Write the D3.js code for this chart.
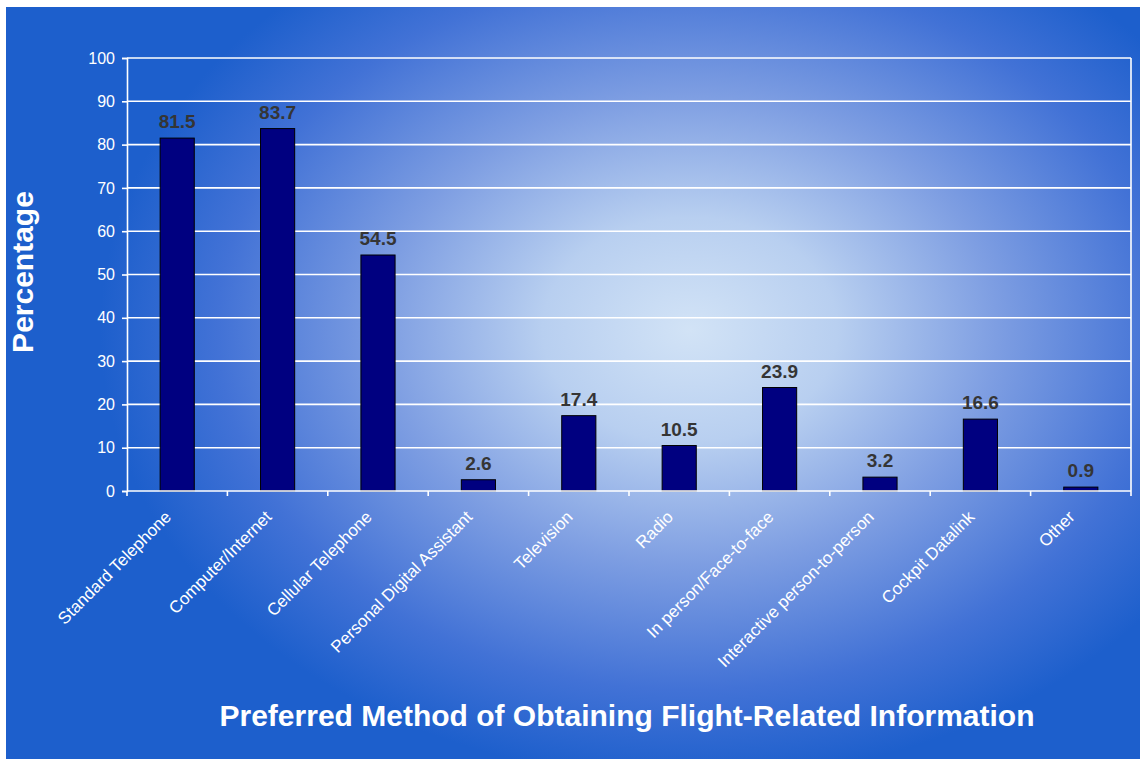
<!DOCTYPE html>
<html>
<head>
<meta charset="utf-8">
<script src="https://cdn.jsdelivr.net/npm/d3@7"></script>
<style>
  html, body { margin: 0; padding: 0; background: #ffffff; }
  svg { display: block; }
  text { font-family: "Liberation Sans", Arial, sans-serif; }
</style>
</head>
<body>
<svg id="chart" width="1140" height="759"></svg>
<script>
// Survey results: preferred method of obtaining flight-related information
const categories = [
  "Standard Telephone",
  "Computer/Internet",
  "Cellular Telephone",
  "Personal Digital Assistant",
  "Television",
  "Radio",
  "In person/Face-to-face",
  "Interactive person-to-person",
  "Cockpit Datalink",
  "Other"
];
const percentages = [81.5, 83.7, 54.5, 2.6, 17.4, 10.5, 23.9, 3.2, 16.6, 0.9];
const yTicks = [0, 10, 20, 30, 40, 50, 60, 70, 80, 90, 100];
const xTitle = "Preferred Method of Obtaining Flight-Related Information";
const yTitle = "Percentage";

const W = 1140, H = 759;
const plot = { left: 127, right: 1131, top: 58, bottom: 491 };

const svg = d3.select("#chart");

// Background: blue field brightening toward the middle
const defs = svg.append("defs");
const grad = defs.append("radialGradient")
  .attr("id", "bg")
  .attr("gradientUnits", "userSpaceOnUse")
  .attr("cx", 0).attr("cy", 0).attr("r", 1)
  .attr("gradientTransform", "translate(690,330) scale(590,450)");
[
  [0.00, "#d2e3f6"],
  [0.25, "#b8cff0"],
  [0.52, "#7e9ee2"],
  [0.80, "#4272d6"],
  [1.00, "#1d5fcc"]
].forEach(([o, c]) => grad.append("stop").attr("offset", o).attr("stop-color", c));

svg.append("rect")
  .attr("x", 6).attr("y", 7)
  .attr("width", W - 6).attr("height", H - 7)
  .attr("fill", "url(#bg)");

// Scales
const x = d3.scaleBand()
  .domain(categories)
  .range([plot.left, plot.right])
  .paddingInner(0.66)
  .paddingOuter(0.33);

const y = d3.scaleLinear()
  .domain([0, 100])
  .range([plot.bottom, plot.top]);

// Horizontal gridlines
svg.append("g")
  .selectAll("line")
  .data(yTicks.filter(d => d > 0))
  .join("line")
  .attr("x1", plot.left).attr("x2", plot.right)
  .attr("y1", d => y(d)).attr("y2", d => y(d))
  .attr("stroke", "#ffffff")
  .attr("stroke-width", 1.6);

// Right border of plot area
svg.append("line")
  .attr("x1", plot.right).attr("x2", plot.right)
  .attr("y1", plot.top).attr("y2", plot.bottom)
  .attr("stroke", "#ffffff")
  .attr("stroke-width", 1.6);

// Y axis
const yAxis = svg.append("g")
  .attr("transform", `translate(${plot.left},0)`)
  .call(d3.axisLeft(y).tickValues(yTicks).tickSize(5).tickPadding(7).tickFormat(d3.format("d")));
yAxis.select(".domain").attr("stroke", "#ffffff").attr("stroke-width", 1.6);
yAxis.selectAll(".tick line").attr("stroke", "#ffffff").attr("stroke-width", 1.6);
yAxis.selectAll(".tick text")
  .attr("fill", "#ffffff")
  .style("font-size", "16px")
  .style("font-family", "'Liberation Sans', Arial, sans-serif");

// Bars
svg.append("g")
  .selectAll("rect")
  .data(percentages)
  .join("rect")
  .attr("x", (d, i) => x(categories[i]))
  .attr("y", d => y(d))
  .attr("width", x.bandwidth())
  .attr("height", d => y(0) - y(d))
  .attr("fill", "#000080")
  .attr("stroke", "#000000")
  .attr("stroke-width", 1);

// X axis line and ticks at category boundaries
svg.append("line")
  .attr("x1", plot.left).attr("x2", plot.right)
  .attr("y1", plot.bottom).attr("y2", plot.bottom)
  .attr("stroke", "#ffffff")
  .attr("stroke-width", 1.6);

const step = x.step();
const boundaries = d3.range(categories.length + 1).map(k => plot.left + k * step);
svg.append("g")
  .selectAll("line")
  .data(boundaries)
  .join("line")
  .attr("x1", d => d).attr("x2", d => d)
  .attr("y1", plot.bottom).attr("y2", plot.bottom + 5)
  .attr("stroke", "#ffffff")
  .attr("stroke-width", 1.6);

// Category labels, slanted
svg.append("g")
  .selectAll("text")
  .data(categories)
  .join("text")
  .attr("transform", d => `translate(${x(d) + x.bandwidth() / 2 - 5},${plot.bottom + 27}) rotate(-45)`)
  .attr("text-anchor", "end")
  .attr("fill", "#ffffff")
  .style("font-size", "17px")
  .text(d => d);

// Value labels above bars
svg.append("g")
  .selectAll("text")
  .data(percentages)
  .join("text")
  .attr("x", (d, i) => x(categories[i]) + x.bandwidth() / 2)
  .attr("y", d => y(d) - 10)
  .attr("text-anchor", "middle")
  .attr("fill", "#353535")
  .style("font-size", "19px")
  .style("font-weight", "bold")
  .text(d => d.toFixed(1));

// Axis titles
svg.append("text")
  .attr("x", 627)
  .attr("y", 726)
  .attr("text-anchor", "middle")
  .attr("fill", "#ffffff")
  .style("font-size", "30px")
  .style("font-weight", "bold")
  .text(xTitle);

svg.append("text")
  .attr("transform", "translate(33,272) rotate(-90)")
  .attr("text-anchor", "middle")
  .attr("fill", "#ffffff")
  .style("font-size", "30px")
  .style("font-weight", "bold")
  .text(yTitle);
</script>
</body>
</html>
